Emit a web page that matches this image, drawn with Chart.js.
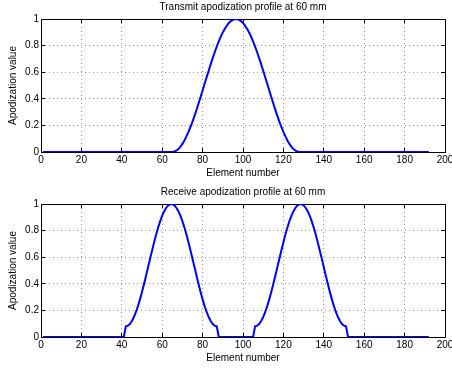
<!DOCTYPE html>
<html>
<head>
<meta charset="utf-8">
<script src="https://cdn.jsdelivr.net/npm/chart.js@4.4.1/dist/chart.umd.min.js"></script>
<style>
  body { margin: 0; background: #fff; }
  canvas { display: block; }
</style>
</head>
<body>
<canvas id="graficoTx" width="452" height="185"></canvas>
<canvas id="graficoRx" width="452" height="184"></canvas>
<script>
// numero de elemento del transductor (1..192)
const elementos = Array.from({ length: 192 }, (_, i) => i + 1);

const xTicks = [0, 20, 40, 60, 80, 100, 120, 140, 160, 180, 200];
const yTicks = [0, 0.2, 0.4, 0.6, 0.8, 1];

// apodizacion de transmision, elementos 1..192
const txApod = [
  0, 0, 0, 0, 0, 0, 0, 0, 0, 0, 0, 0, 0, 0, 0, 0,
  0, 0, 0, 0, 0, 0, 0, 0, 0, 0, 0, 0, 0, 0, 0, 0,
  0, 0, 0, 0, 0, 0, 0, 0, 0, 0, 0, 0, 0, 0, 0, 0,
  0, 0, 0, 0, 0, 0, 0, 0, 0, 0, 0, 0, 0, 0, 0, 0,
  // 65..128
  0, 0.003, 0.010, 0.022, 0.039, 0.061, 0.087, 0.117, 0.151, 0.188, 0.229, 0.272, 0.317, 0.365, 0.413, 0.463,
  0.513, 0.562, 0.611, 0.659, 0.706, 0.750, 0.792, 0.831, 0.867, 0.899, 0.927, 0.950, 0.970, 0.984, 0.994, 0.999,
  0.999, 0.994, 0.984, 0.970, 0.950, 0.927, 0.899, 0.867, 0.831, 0.792, 0.750, 0.706, 0.659, 0.611, 0.562, 0.513,
  0.463, 0.413, 0.365, 0.317, 0.272, 0.229, 0.188, 0.151, 0.117, 0.087, 0.061, 0.039, 0.022, 0.010, 0.003, 0,
  // 129..192
  0, 0, 0, 0, 0, 0, 0, 0, 0, 0, 0, 0, 0, 0, 0, 0,
  0, 0, 0, 0, 0, 0, 0, 0, 0, 0, 0, 0, 0, 0, 0, 0,
  0, 0, 0, 0, 0, 0, 0, 0, 0, 0, 0, 0, 0, 0, 0, 0,
  0, 0, 0, 0, 0, 0, 0, 0, 0, 0, 0, 0, 0, 0, 0, 0
];

// apodizacion de recepcion, elementos 1..192
const rxApod = [
  // 1..41
  0, 0, 0, 0, 0, 0, 0, 0, 0, 0, 0, 0, 0, 0, 0, 0,
  0, 0, 0, 0, 0, 0, 0, 0, 0, 0, 0, 0, 0, 0, 0, 0,
  0, 0, 0, 0, 0, 0, 0, 0, 0,
  // 42..87
  0.080, 0.085, 0.098, 0.120, 0.150, 0.188, 0.232, 0.283, 0.338, 0.398, 0.460, 0.524, 0.588, 0.651, 0.712, 0.770,
  0.823, 0.871, 0.912, 0.946, 0.972, 0.990, 0.999, 0.999, 0.990, 0.972, 0.946, 0.912, 0.871, 0.823, 0.770, 0.712,
  0.651, 0.588, 0.524, 0.460, 0.398, 0.338, 0.283, 0.232, 0.188, 0.150, 0.120, 0.098, 0.085, 0.080,
  // 88..105
  0, 0, 0, 0, 0, 0, 0, 0, 0, 0, 0, 0, 0, 0, 0, 0, 0, 0,
  // 106..151
  0.080, 0.085, 0.098, 0.120, 0.150, 0.188, 0.232, 0.283, 0.338, 0.398, 0.460, 0.524, 0.588, 0.651, 0.712, 0.770,
  0.823, 0.871, 0.912, 0.946, 0.972, 0.990, 0.999, 0.999, 0.990, 0.972, 0.946, 0.912, 0.871, 0.823, 0.770, 0.712,
  0.651, 0.588, 0.524, 0.460, 0.398, 0.338, 0.283, 0.232, 0.188, 0.150, 0.120, 0.098, 0.085, 0.080,
  // 152..192
  0, 0, 0, 0, 0, 0, 0, 0, 0, 0, 0, 0, 0, 0, 0, 0,
  0, 0, 0, 0, 0, 0, 0, 0, 0, 0, 0, 0, 0, 0, 0, 0,
  0, 0, 0, 0, 0, 0, 0, 0, 0
];

Chart.defaults.font.family = "'Liberation Sans', Arial, sans-serif";
Chart.defaults.font.size = 10;
Chart.defaults.color = '#000';

const alinear = (p) => Math.round(p - 0.5) + 0.5;

// caja negra y marcas hacia adentro, estilo matlab
const marcoMatlab = {
  id: 'marcoMatlab',
  beforeDatasetsDraw(chart) {
    const { ctx, chartArea: a, scales: { x, y } } = chart;
    ctx.save();
    ctx.strokeStyle = '#000';
    ctx.lineWidth = 1;
    ctx.beginPath();
    x.ticks.forEach(t => {
      const px = alinear(x.getPixelForValue(t.value));
      ctx.moveTo(px, a.bottom); ctx.lineTo(px, a.bottom - 4);
      ctx.moveTo(px, a.top); ctx.lineTo(px, a.top + 4);
    });
    y.ticks.forEach(t => {
      const py = alinear(y.getPixelForValue(t.value));
      ctx.moveTo(a.left, py); ctx.lineTo(a.left + 4, py);
      ctx.moveTo(a.right, py); ctx.lineTo(a.right - 4, py);
    });
    ctx.stroke();
    ctx.strokeRect(a.left + 0.5, a.top + 0.5, a.right - a.left, a.bottom - a.top);
    ctx.restore();
  }
};

const crearGrafico = (id, titulo, valores) => {
  const canvas = document.getElementById(id);
  const alto = canvas.height;
  return new Chart(canvas, {
    type: 'line',
    data: {
      labels: elementos,
      datasets: [{
        data: valores,
        borderColor: '#0000ff',
        borderWidth: 2,
        pointRadius: 0,
        fill: false,
        tension: 0
      }]
    },
    options: {
      responsive: false,
      animation: false,
      devicePixelRatio: 1,
      layout: { padding: { left: 0, right: 7, top: 0, bottom: 0 } },
      plugins: {
        legend: { display: false },
        tooltip: { enabled: false },
        title: {
          display: true,
          text: titulo,
          fullSize: false,
          color: '#000',
          font: { size: 10, weight: 'normal' },
          padding: { top: 1, bottom: 6 }
        }
      },
      scales: {
        x: {
          type: 'linear',
          min: 0,
          max: 200,
          afterBuildTicks: s => { s.ticks = xTicks.map(v => ({ value: v })); },
          afterFit: s => { s.height = alto - 152; s.paddingLeft = 0; s.paddingRight = 0; },
          grid: { color: '#9a9a9a', lineWidth: 1, drawTicks: false },
          border: { display: false, dash: [1, 3] },
          ticks: { padding: 2, maxRotation: 0, autoSkip: false, callback: v => String(v) },
          title: { display: true, text: 'Element number', padding: { top: 0, bottom: alto - 179 } }
        },
        y: {
          min: 0,
          max: 1,
          afterBuildTicks: s => { s.ticks = yTicks.map(v => ({ value: v })); },
          afterFit: s => { s.width = 41; },
          grid: { color: '#9a9a9a', lineWidth: 1, drawTicks: false },
          border: { display: false, dash: [1, 3] },
          ticks: { padding: 2, autoSkip: false, callback: v => String(v) },
          title: { display: true, text: 'Apodization value', padding: { top: 7, bottom: 0 } }
        }
      }
    },
    plugins: [marcoMatlab]
  });
};

crearGrafico('graficoTx', 'Transmit apodization profile at 60 mm', txApod);
crearGrafico('graficoRx', 'Receive apodization profile at 60 mm', rxApod);
</script>
</body>
</html>
